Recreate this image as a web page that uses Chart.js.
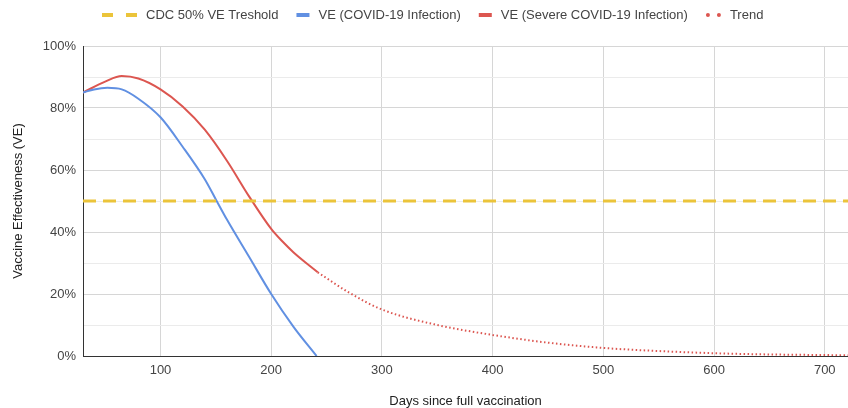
<!DOCTYPE html>
<html>
<head>
  <title>Vaccine Effectiveness</title>
  <script src="https://cdn.jsdelivr.net/npm/chart.js"></script>
  <style>
    html, body { margin: 0; padding: 0; background: #fff; }
  </style>
</head>
<body>
  <canvas id="veChart" width="848" height="408"></canvas>
  <script>
    // values (days, VE %)
    const infectionDays = [30, 40, 52, 65, 80, 100, 120, 140, 150, 160, 180, 200, 220, 241];
    const infectionVE   = [85, 86, 86.5, 86, 83, 77, 67.5, 57, 50.5, 44, 32, 20, 9.5, 0];
    const severeDays = [30, 50, 65, 80, 100, 120, 140, 160, 180, 200, 210, 220, 242];
    const severeVE   = [85, 88.5, 90.3, 89.5, 86, 80.5, 73, 63, 51.5, 41, 37, 33.5, 27];
    const trendDays = [242, 270, 300, 350, 400, 450, 500, 550, 600, 650, 700, 721];
    const trendVE   = [27, 20.5, 15, 10, 6.8, 4.3, 2.6, 1.6, 0.9, 0.5, 0.3, 0.2];
    const thresholdDays = [30, 721];
    const thresholdVE = [50, 50];
    const xTicks = [100, 200, 300, 400, 500, 600, 700];
    const yTicks = [0, 10, 20, 30, 40, 50, 60, 70, 80, 90, 100];

    const pts = (xs, ys) => xs.map((x, i) => ({ x: x, y: ys[i] }));
    const fontFamily = 'Arial, "Liberation Sans", sans-serif';
    const font = { family: fontFamily, size: 13 };

    // legend drawn by hand so the markers look like the sheet's ones
    const topLegend = {
      id: 'topLegend',
      afterDraw(chart) {
        const ctx = chart.ctx;
        const y = 15;
        let x = 102;
        ctx.save();
        ctx.font = '13px ' + fontFamily;
        ctx.textBaseline = 'middle';
        chart.data.datasets.forEach(ds => {
          const dash = ds.borderDash || [];
          ctx.fillStyle = ds.borderColor;
          let w;
          if (dash.length && dash[0] > 5) {
            ctx.fillRect(x, y - 2, 11, 4);
            ctx.fillRect(x + 24, y - 2, 11, 4);
            w = 35;
          } else if (dash.length) {
            ctx.beginPath(); ctx.arc(x + 2, y, 2, 0, Math.PI * 2); ctx.fill();
            ctx.beginPath(); ctx.arc(x + 13, y, 2, 0, Math.PI * 2); ctx.fill();
            w = 15;
          } else {
            ctx.fillRect(x, y - 2, 13, 4);
            w = 13;
          }
          x += w + 9;
          ctx.fillStyle = '#444';
          ctx.fillText(ds.label, x, y);
          x += ctx.measureText(ds.label).width + 18;
        });
        ctx.restore();
      }
    };

    new Chart(document.getElementById('veChart').getContext('2d'), {
      type: 'line',
      data: {
        datasets: [
          { label: 'CDC 50% VE Treshold', data: pts(thresholdDays, thresholdVE),
            borderColor: '#ebc43a', borderWidth: 3, borderDash: [13, 7] },
          { label: 'VE (COVID-19 Infection)', data: pts(infectionDays, infectionVE),
            borderColor: '#6190e2', borderWidth: 2, cubicInterpolationMode: 'monotone' },
          { label: 'VE (Severe COVID-19 Infection)', data: pts(severeDays, severeVE),
            borderColor: '#dc5650', borderWidth: 2, cubicInterpolationMode: 'monotone' },
          { label: 'Trend', data: pts(trendDays, trendVE),
            borderColor: '#dc5650', borderWidth: 2, borderDash: [1.5, 2.5], cubicInterpolationMode: 'monotone' }
        ]
      },
      options: {
        responsive: false,
        animation: false,
        layout: { padding: { top: 46, right: 0, bottom: 0, left: 11 } },
        elements: { point: { radius: 0 } },
        plugins: {
          tooltip: { enabled: false },
          legend: { display: false }
        },
        scales: {
          x: {
            type: 'linear', min: 30, max: 721,
            afterBuildTicks: s => { s.ticks = xTicks.map(v => ({ value: v })); },
            afterFit: s => { s.height = 52; },
            ticks: { color: '#444', font: font, padding: 7 },
            grid: { color: '#d6d6d6', drawTicks: false },
            border: { color: '#333', width: 1 },
            title: { display: true, text: 'Days since full vaccination', color: '#222',
              font: { family: fontFamily, size: 13, lineHeight: 1 }, padding: 0 }
          },
          y: {
            min: 0, max: 100,
            afterBuildTicks: s => { s.ticks = yTicks.map(v => ({ value: v })); },
            afterFit: s => { s.width = 72; },
            ticks: { color: '#444', font: font, padding: 7,
              callback: v => (v % 20 === 0 ? v + '%' : '') },
            grid: { drawTicks: false, color: c => (c.tick && c.tick.value % 20 === 0 ? '#d6d6d6' : '#ebebeb') },
            border: { color: '#333', width: 1 },
            title: { display: true, text: 'Vaccine Effectiveness (VE)', color: '#222', font: font, padding: 0 }
          }
        }
      },
      plugins: [topLegend]
    });
  </script>
</body>
</html>
